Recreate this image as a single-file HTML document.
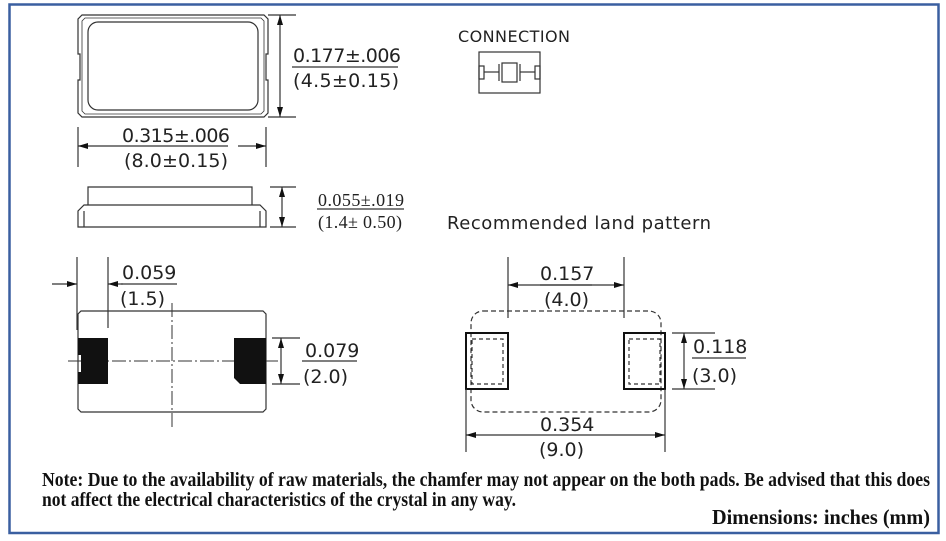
<!DOCTYPE html>
<html><head><meta charset="utf-8"><style>
html,body{margin:0;padding:0;background:#fff;}
svg{display:block;}
.d{font-family:"DejaVu Sans","Liberation Sans",sans-serif;font-size:19px;fill:#222;}
.s{font-family:"Liberation Serif",serif;font-size:18px;fill:#222;}
.n{font-family:"Liberation Serif",serif;font-weight:bold;font-size:20px;fill:#111;}
</style></head><body>
<svg width="946" height="541" viewBox="0 0 946 541" xmlns="http://www.w3.org/2000/svg">
<defs>
<marker id="a" viewBox="0 0 10 6" refX="10" refY="3" markerWidth="12" markerHeight="6" orient="auto-start-reverse" markerUnits="userSpaceOnUse"><path d="M0,0 L10,3 L0,6 z" fill="#111"/></marker>
</defs>
<rect x="9.5" y="4.5" width="929" height="528.5" fill="none" stroke="#3a5fa0" stroke-width="2.5"/>
<g fill="none" stroke="#333" stroke-width="1.2">
<path d="M82,15 H264 L268,19 V54 H266 V80 H268 V113 L264,117 H82 L78,113 V80 H80 V54 H78 V19 Z"/>
<path d="M85,18 H261 L264,21 V111 L261,114 H85 L82,111 V21 Z" stroke-width="0.8"/>
<rect x="88" y="22" width="170" height="88" rx="10"/>
<line x1="268" y1="15" x2="296" y2="15"/><line x1="268" y1="117" x2="296" y2="117"/>
<line x1="280" y1="15" x2="280" y2="117" marker-start="url(#a)" marker-end="url(#a)"/>
<line x1="292" y1="67" x2="398" y2="67"/>
<line x1="78" y1="127" x2="78" y2="167"/><line x1="266" y1="127" x2="266" y2="167"/>
<line x1="78" y1="146" x2="228" y2="146" marker-start="url(#a)"/>
<line x1="238" y1="146" x2="266" y2="146" marker-end="url(#a)"/>
<path d="M88,205 V187 H252 V205"/>
<path d="M78,227 V211 L84,205 H260 L266,211 V227 Z"/>
<line x1="84" y1="211" x2="84" y2="227"/><line x1="260" y1="211" x2="260" y2="227"/>
<line x1="270" y1="187" x2="296" y2="187"/><line x1="270" y1="227" x2="296" y2="227"/>
<line x1="282" y1="187" x2="282" y2="227" marker-start="url(#a)" marker-end="url(#a)"/>
<line x1="317" y1="209" x2="404" y2="209"/>
<path d="M81,311 H263 L266,314 V409 L263,412 H81 L78,409 V314 Z"/>
<g stroke-dasharray="14,3,2,3" stroke-width="1">
<line x1="68" y1="361" x2="278" y2="361"/><line x1="172" y1="303" x2="172" y2="430"/></g>
<line x1="77" y1="257" x2="77" y2="330"/><line x1="108" y1="257" x2="108" y2="328"/>
<line x1="52" y1="284" x2="77" y2="284" marker-end="url(#a)"/>
<line x1="123" y1="284" x2="108" y2="284" marker-end="url(#a)"/>
<line x1="121" y1="284" x2="177" y2="284"/>
<line x1="272" y1="338" x2="300" y2="338"/><line x1="272" y1="384" x2="300" y2="384"/>
<line x1="281" y1="338" x2="281" y2="384" marker-start="url(#a)" marker-end="url(#a)"/>
<line x1="302" y1="361" x2="357" y2="361"/>
<rect x="471" y="311" width="190" height="101" rx="12" stroke-dasharray="5,3"/>
<rect x="466" y="333" width="42" height="56" stroke="#111" stroke-width="2"/>
<rect x="624" y="333" width="41" height="56" stroke="#111" stroke-width="2"/>
<rect x="472" y="339" width="31" height="45" stroke-dasharray="4,3"/>
<rect x="629" y="339" width="31" height="45" stroke-dasharray="4,3"/>
<line x1="508" y1="257" x2="508" y2="318"/><line x1="624" y1="257" x2="624" y2="318"/>
<line x1="508" y1="285" x2="624" y2="285" marker-start="url(#a)" marker-end="url(#a)"/>
<line x1="540" y1="285" x2="592" y2="285"/>
<line x1="672" y1="333" x2="715" y2="333"/><line x1="672" y1="389" x2="715" y2="389"/>
<line x1="684" y1="333" x2="684" y2="389" marker-start="url(#a)" marker-end="url(#a)"/>
<line x1="692" y1="358" x2="746" y2="358"/>
<line x1="466" y1="389" x2="466" y2="452"/><line x1="665" y1="389" x2="665" y2="452"/>
<line x1="466" y1="435" x2="665" y2="435" marker-start="url(#a)" marker-end="url(#a)"/>
<rect x="479" y="52" width="61" height="41"/>
<rect x="479" y="66" width="5" height="13"/><rect x="535" y="66" width="5" height="13"/>
<line x1="484" y1="72" x2="499" y2="72"/><line x1="520" y1="72" x2="535" y2="72"/>
<line x1="499" y1="64" x2="499" y2="81"/><line x1="520" y1="64" x2="520" y2="81"/>
<rect x="502" y="63" width="15" height="19"/>
</g>
<path d="M78,338 H108 V384 H78 V372 H81 V355 H78 Z" fill="#111"/>
<path d="M234,338 H266 V384 H240 L234,378 Z" fill="#111"/>
<text class="d" x="293" y="62" textLength="108">0.177±.006</text>
<text class="d" x="293" y="87" textLength="106">(4.5±0.15)</text>
<text class="d" x="122" y="142" textLength="108">0.315±.006</text>
<text class="d" x="124" y="167" textLength="104">(8.0±0.15)</text>
<text class="s" x="318" y="206" textLength="86">0.055±.019</text>
<text class="s" x="318" y="228" textLength="84">(1.4± 0.50)</text>
<text class="d" x="122" y="279">0.059</text>
<text class="d" x="120" y="305">(1.5)</text>
<text class="d" x="305" y="357">0.079</text>
<text class="d" x="303" y="383">(2.0)</text>
<text class="d" x="458" y="42" style="font-size:16px" textLength="112">CONNECTION</text>
<text class="d" x="447" y="229" style="font-size:18px" textLength="264">Recommended land pattern</text>
<text class="d" x="540" y="280">0.157</text>
<text class="d" x="544" y="306">(4.0)</text>
<text class="d" x="693" y="353">0.118</text>
<text class="d" x="692" y="382">(3.0)</text>
<text class="d" x="540" y="431">0.354</text>
<text class="d" x="539" y="456">(9.0)</text>
<text class="n" x="42" y="486" textLength="888" lengthAdjust="spacingAndGlyphs">Note:  Due to the availability of raw materials, the chamfer may not appear on the both pads.  Be advised that this does</text>
<text class="n" x="42" y="506" textLength="474" lengthAdjust="spacingAndGlyphs">not affect the electrical characteristics of the crystal in any way.</text>
<text class="n" x="712" y="524" style="font-size:21px" textLength="218" lengthAdjust="spacingAndGlyphs">Dimensions: inches (mm)</text>
</svg>
</body></html>
